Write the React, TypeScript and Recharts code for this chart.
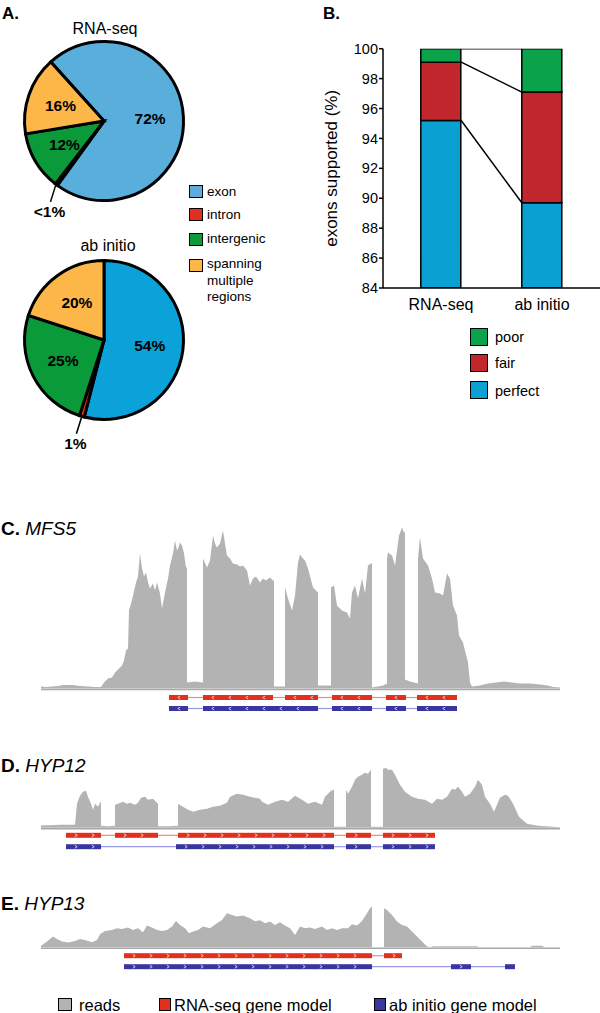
import React from "react";
import {
  PieChart,
  Pie,
  Cell,
  ComposedChart,
  Bar,
  Line,
  Area,
  XAxis,
  YAxis,
  ReferenceArea,
  ReferenceLine,
} from "recharts";

const FONT = '"Liberation Sans", Arial, Helvetica, sans-serif';

// ---- panel A: where the gene models fall
const REGIONS = ["exon", "intron", "intergenic", "spanning"];
const REGION_COLORS = ["#5aaedc", "#e1301f", "#0b9a3a", "#fdb749"];
const RNASEQ_SHARE = [72, 0.5, 12, 16];
const RNASEQ_LABELS = ["72%", "<1%", "12%", "16%"];
const ABINITIO_SHARE = [54, 1, 25, 20];
const ABINITIO_LABELS = ["54%", "1%", "25%", "20%"];
const ABINITIO_EXON_COLOR = "#0aa2d8";

// ---- panel B: exon support
const METHODS = ["RNA-seq", "ab initio"];
const PERFECT = [95.2, 89.7];
const FAIR = [3.9, 7.4];
const POOR = [0.9, 2.9];
const Y_TICKS = [84, 86, 88, 90, 92, 94, 96, 98, 100];
const SUPPORT = ["poor", "fair", "perfect"];
const SUPPORT_COLORS = { poor: "#0aa24a", fair: "#c1272d", perfect: "#0aa0d2" };

// ---- panels C-E: read coverage [position, depth] and gene models [start, end]
const MFS5_COVERAGE = [
  [41, 2], [46, 1.5], [52, 2], [58, 2.5], [63, 3.5], [68, 3.5], [73, 3.5], [80, 2.5], [88, 2], [95, 1.5],
  [101, 1.5], [104, 6], [108, 10], [112, 11], [115, 16], [119, 20], [122, 23], [124, 28], [126, 38], [128, 40],
  [129, 78], [131, 85], [133, 93], [136, 106], [138, 112], [140, 135], [142, 120], [144, 112], [146, 116],
  [148, 106], [150, 100], [153, 105], [155, 98], [157, 106], [160, 95], [162, 80], [165, 96], [168, 110],
  [170, 123], [173, 135], [175, 148], [177, 138], [178, 140], [180, 146], [182, 143], [184, 135], [186, 121],
  [187, 121], [187, 6], [195, 7], [203, 6], [203, 130], [207, 121], [210, 128], [213, 153], [215, 145],
  [217, 141], [220, 145], [223, 158], [225, 145], [227, 133], [230, 130], [233, 125], [237, 124], [240, 122],
  [243, 123], [247, 118], [250, 103], [253, 110], [256, 112], [260, 106], [263, 110], [266, 108], [270, 111],
  [273, 108], [274, 108], [274, 2], [280, 2], [285, 2], [285, 101], [288, 90], [292, 78], [295, 93], [298, 126],
  [300, 134], [303, 130], [305, 128], [308, 120], [313, 101], [318, 96], [318, 3], [325, 3], [331, 3],
  [331, 101], [334, 103], [337, 83], [340, 80], [342, 78], [347, 76], [350, 70], [352, 96], [355, 103],
  [358, 90], [362, 110], [365, 95], [368, 123], [371, 125], [372, 125], [372, 1], [378, 2], [383, 3], [387, 5],
  [387, 130], [388, 136], [392, 133], [395, 123], [399, 153], [402, 161], [404, 156], [405, 156], [405, 9],
  [410, 7], [418, 5], [418, 130], [420, 151], [423, 130], [428, 123], [432, 110], [435, 96], [440, 95],
  [443, 93], [447, 115], [450, 110], [453, 83], [457, 73], [459, 53], [463, 46], [468, 26], [470, 6], [472, 2],
  [480, 3], [488, 5], [496, 6], [504, 7], [512, 6], [520, 5], [530, 5], [540, 4], [548, 3], [553, 1.5], [560, 1],
];
const MFS5_RNASEQ = [[169, 188], [203, 273], [285, 318], [332, 372], [386, 406], [417, 457]];
const MFS5_ABINITIO = [[169, 188], [203, 318], [332, 372], [386, 406], [417, 457]];

const HYP12_COVERAGE = [
  [41, 2.5], [50, 2.5], [60, 3], [70, 3], [75, 3], [77, 24], [80, 32], [83, 36], [86, 37], [88, 31], [91, 24],
  [93, 18], [95, 24], [98, 21], [100, 25], [101, 26], [101, 2], [108, 1.5], [115, 2], [115, 23], [118, 24],
  [123, 26], [127, 24], [130, 25], [135, 23], [138, 25], [141, 30], [145, 31], [148, 28], [153, 29], [158, 24],
  [158, 1.5], [168, 1.5], [178, 2], [178, 24], [183, 21], [188, 18], [193, 16], [200, 18], [207, 19], [213, 21],
  [220, 22], [227, 25], [230, 31], [237, 34], [243, 33], [250, 31], [260, 29], [262, 26], [268, 23], [275, 26],
  [282, 28], [288, 26], [295, 32], [302, 28], [308, 24], [315, 26], [322, 23], [325, 31], [330, 36], [333, 38],
  [334, 38], [334, 1], [346, 1], [346, 38], [348, 34], [352, 41], [355, 48], [358, 51], [362, 53], [365, 55],
  [368, 54], [371, 58], [371, 1], [383, 1], [383, 59], [386, 60], [388, 58], [392, 58], [395, 53], [400, 43],
  [405, 36], [412, 31], [418, 29], [425, 28], [432, 24], [437, 29], [442, 28], [447, 31], [452, 39], [455, 38],
  [458, 41], [462, 36], [465, 31], [470, 34], [475, 41], [478, 48], [482, 43], [485, 31], [490, 24], [494, 16],
  [500, 30], [505, 33], [508, 32], [513, 24], [519, 11], [527, 4], [538, 2], [560, 0.5],
];
const HYP12_RNASEQ = [[66, 101], [115, 158], [178, 334], [346, 371], [383, 435]];
const HYP12_ABINITIO = [[66, 101], [176, 334], [346, 371], [383, 435]];

const HYP13_COVERAGE = [
  [41, 1.5], [42, 2.3], [47, 5.7], [53, 10.7], [57, 8.3], [62, 5.7], [68, 4.7], [75, 6.3], [80, 8.3], [85, 7.3],
  [92, 5], [97, 7.3], [100, 13], [105, 16.3], [112, 17.3], [117, 19], [122, 18.3], [128, 19.7], [133, 17.3],
  [138, 19], [143, 15], [147, 21.7], [152, 19.7], [157, 17.3], [162, 16.3], [167, 17.3], [172, 20.7], [176, 26.3],
  [180, 22.3], [185, 19], [189, 14], [193, 15.7], [198, 17.3], [203, 20.7], [210, 19], [217, 24], [222, 27.3],
  [227, 34], [232, 32.3], [237, 30.7], [243, 31.7], [250, 29], [255, 26], [260, 27], [265, 24], [270, 25.7],
  [275, 22.3], [280, 25], [285, 21.7], [290, 19], [295, 12.3], [300, 20.7], [305, 19], [310, 19.7], [315, 18.3],
  [322, 20.7], [327, 17.3], [332, 19], [337, 17.3], [342, 19], [348, 19], [352, 23], [357, 21.7], [362, 26.3],
  [367, 34], [370, 39], [372, 40.7], [372, 0], [384, 0], [384, 39], [387, 37.3], [392, 32.3], [397, 25.7],
  [402, 22.3], [407, 20.7], [412, 15.7], [417, 10.7], [422, 5.7], [427, 0.7], [431, 0], [433, 1], [477, 1],
  [479, 0], [530, 0], [532, 1.5], [542, 1.5], [545, 0], [560, 0],
];
const HYP13_RNASEQ = [[124, 372], [384, 402]];
const HYP13_ABINITIO = [[124, 372], [451, 471], [505, 515]];

const TRACK_KEYS = ["reads", "RNA-seq gene model", "ab initio gene model"];
const READS_COLOR = "#b3b3b3";
const RNASEQ_COLOR = "#e3301d";
const ABINITIO_COLOR = "#3a36a0";
const RNASEQ_INTRON = "#ef8a80";
const ABINITIO_INTRON = "#9a98e6";

const RADIAN = Math.PI / 180;

function Txt({ x, y, size, children, bold = false, italic = false, center = false }: any) {
  return (
    <div
      style={{
        position: "absolute",
        left: x,
        top: y,
        transform: `translate(${center ? "-50%" : "0"}, -50%)`,
        fontSize: size,
        fontWeight: bold ? 700 : 400,
        fontStyle: italic ? "italic" : "normal",
        lineHeight: 1,
        whiteSpace: "nowrap",
        color: "#000",
      }}
    >
      {children}
    </div>
  );
}

function Swatch({ x, y, w, h, color }: any) {
  return (
    <div
      style={{
        position: "absolute",
        left: x,
        top: y,
        width: w,
        height: h,
        background: color,
        border: "1.5px solid #000",
        boxSizing: "border-box",
      }}
    />
  );
}

function pieLabel(labels: string[]) {
  return (props: any) => {
    const { cx, cy, midAngle, outerRadius, index } = props;
    const cos = Math.cos(-midAngle * RADIAN);
    const sin = Math.sin(-midAngle * RADIAN);
    if (index === 1) {
      // tiny intron slice gets a leader line
      const sx = cx + (outerRadius + 1.5) * cos;
      const sy = cy + (outerRadius + 1.5) * sin;
      return (
        <g>
          <line x1={sx} y1={sy} x2={sx - 5} y2={sy + 16} stroke="#000" strokeWidth={1.5} />
          <text x={sx - 6} y={sy + 26} textAnchor="middle" dominantBaseline="central" fontSize={15.5} fontWeight={700} fill="#000">
            {labels[index]}
          </text>
        </g>
      );
    }
    const r = outerRadius * 0.58;
    return (
      <text
        x={cx + r * cos}
        y={cy + r * sin}
        textAnchor="middle"
        dominantBaseline="central"
        fontSize={15.5}
        fontWeight={700}
        fill="#000"
      >
        {labels[index]}
      </text>
    );
  };
}

function RegionPie({ top, shares, labels, exonColor, startAngle }: any) {
  const data = REGIONS.map((name, i) => ({ name, value: shares[i] }));
  return (
    <div style={{ position: "absolute", left: 4, top, width: 200, height: 230 }}>
      <PieChart width={200} height={230} margin={{ top: 0, right: 0, bottom: 0, left: 0 }}>
        <Pie
          data={data}
          dataKey="value"
          cx={100}
          cy={100}
          outerRadius={79.5}
          startAngle={startAngle}
          endAngle={startAngle - 360}
          stroke="#000"
          strokeWidth={3}
          label={pieLabel(labels)}
          labelLine={false}
          isAnimationActive={false}
        >
          {data.map((d, i) => (
            <Cell key={d.name} fill={i === 0 ? exonColor : REGION_COLORS[i]} />
          ))}
        </Pie>
      </PieChart>
    </div>
  );
}

function SupportChart() {
  const data = METHODS.map((method, i) => ({
    method,
    perfect: PERFECT[i],
    fair: FAIR[i],
    poor: POOR[i],
  }));
  // lines join the same boundary on neighbouring bars (bar covers 40% of its band)
  const BAR_FRAC = 0.4;
  const levels = [
    PERFECT,
    PERFECT.map((p, i) => p + FAIR[i]),
    PERFECT.map((p, i) => p + FAIR[i] + POOR[i]),
  ];
  const connectors = levels.map((lv) => [
    { x: 0.5 + BAR_FRAC / 2, y: lv[0] },
    { x: 1.5 - BAR_FRAC / 2, y: lv[1] },
  ]);
  const axisStyle = { stroke: "#000", strokeWidth: 1.5 };
  return (
    <div style={{ position: "absolute", left: 290, top: 30, width: 310, height: 290 }}>
      <ComposedChart
        width={310}
        height={290}
        data={data}
        margin={{ top: 18.7, right: 0, bottom: 2, left: 0 }}
        barCategoryGap="30%"
      >
        <XAxis
          xAxisId="cat"
          dataKey="method"
          padding={{ left: 7.5, right: 7.5 }}
          axisLine={axisStyle}
          tickLine={false}
          tickMargin={5}
          height={30}
          interval={0}
          tick={{ fill: "#000", fontSize: 16 }}
        />
        <XAxis xAxisId="n" type="number" dataKey="x" domain={[0, 2]} padding={{ left: 7.5, right: 7.5 }} hide allowDataOverflow />
        <YAxis
          type="number"
          domain={[84, 100]}
          ticks={Y_TICKS}
          allowDataOverflow
          width={93}
          axisLine={axisStyle}
          tickLine={axisStyle}
          tickSize={4}
          tickMargin={1}
          tick={{ fill: "#000", fontSize: 14.5 }}
          label={{
            value: "exons supported (%)",
            angle: -90,
            position: "center",
            dx: -6,
            style: { fontSize: 17, fill: "#000", textAnchor: "middle" },
          }}
        />
        <Bar xAxisId="cat" dataKey="perfect" stackId="s" fill={SUPPORT_COLORS.perfect} stroke="#000" strokeWidth={1.5} isAnimationActive={false} />
        <Bar xAxisId="cat" dataKey="fair" stackId="s" fill={SUPPORT_COLORS.fair} stroke="#000" strokeWidth={1.5} isAnimationActive={false} />
        <Bar xAxisId="cat" dataKey="poor" stackId="s" fill={SUPPORT_COLORS.poor} stroke="#000" strokeWidth={1.5} isAnimationActive={false} />
        {connectors.map((c, i) => (
          <Line
            key={i}
            xAxisId="n"
            data={c}
            dataKey="y"
            stroke="#000"
            strokeWidth={1.5}
            dot={false}
            activeDot={false}
            isAnimationActive={false}
          />
        ))}
      </ComposedChart>
    </div>
  );
}

// exon box with small white strand chevrons, like a genome browser draws them
function exonShape(dir: number) {
  return (p: any) => {
    const { x, y, width, height, fill } = p;
    const marks: number[] = [];
    for (let m = x + 10; m < x + width - 5; m += 17) marks.push(m);
    return (
      <g>
        <rect x={x} y={y} width={width} height={height} fill={fill} />
        {marks.map((m) => (
          <polyline
            key={m}
            points={`${m - dir * 1.2},${y + 1} ${m + dir * 1.2},${y + height / 2} ${m - dir * 1.2},${y + height - 1}`}
            fill="none"
            stroke="#fff"
            strokeWidth={0.7}
          />
        ))}
      </g>
    );
  };
}

function geneModel(exons: number[][], y: number, color: string, intronColor: string, dir: number, key: string) {
  const out: any[] = [];
  for (let i = 0; i < exons.length - 1; i++) {
    out.push(
      <ReferenceLine
        key={`${key}-i${i}`}
        segment={[{ x: exons[i][1], y }, { x: exons[i + 1][0], y }]}
        stroke={intronColor}
        strokeWidth={1.2}
      />
    );
  }
  exons.forEach(([s, e], i) => {
    out.push(
      <ReferenceArea
        key={`${key}-e${i}`}
        x1={s}
        x2={e}
        y1={y - 2.5}
        y2={y + 2.5}
        fill={color}
        fillOpacity={1}
        stroke="none"
        shape={exonShape(dir)}
      />
    );
  });
  return out;
}

function CoverageTrack({ top, height, base, coverage, rnaseq, abinitio, redY, blueY, dir }: any) {
  const data = coverage.map(([pos, depth]: number[]) => ({ pos, depth }));
  const yMax = base - top;
  return (
    <div style={{ position: "absolute", left: 41, top, width: 519, height }}>
      <ComposedChart width={519} height={height} data={data} margin={{ top: 0, right: 0, bottom: 0, left: 0 }}>
        <XAxis type="number" dataKey="pos" domain={[41, 560]} hide allowDataOverflow />
        <YAxis type="number" domain={[yMax - height, yMax]} hide allowDataOverflow />
        <Area
          type="linear"
          dataKey="depth"
          fill={READS_COLOR}
          fillOpacity={1}
          stroke="none"
          baseValue={0}
          isAnimationActive={false}
        />
        <ReferenceLine y={-1} stroke="#a8a8a8" strokeWidth={1.5} />
        {geneModel(rnaseq, redY, RNASEQ_COLOR, RNASEQ_INTRON, dir, "r")}
        {geneModel(abinitio, blueY, ABINITIO_COLOR, ABINITIO_INTRON, dir, "b")}
      </ComposedChart>
    </div>
  );
}

export default function App() {
  return (
    <div
      style={{
        position: "absolute",
        left: 0,
        top: 0,
        width: 600,
        height: 1013,
        background: "#fff",
        fontFamily: FONT,
        overflow: "hidden",
      }}
    >
      {/* A */}
      <Txt x={2} y={13} size={17} bold>A.</Txt>
      <Txt x={105} y={29} size={16} center>RNA-seq</Txt>
      <RegionPie top={21} shares={RNASEQ_SHARE} labels={RNASEQ_LABELS} exonColor={REGION_COLORS[0]} startAngle={132} />
      <Txt x={108} y={246} size={16} center>ab initio</Txt>
      <RegionPie top={240} shares={ABINITIO_SHARE} labels={ABINITIO_LABELS} exonColor={ABINITIO_EXON_COLOR} startAngle={90} />
      {REGIONS.map((r, i) => (
        <Swatch key={r} x={189} y={[185, 208, 233, 259][i]} w={14} h={13} color={REGION_COLORS[i]} />
      ))}
      <Txt x={207} y={191.5} size={13.5}>{REGIONS[0]}</Txt>
      <Txt x={207} y={214.5} size={13.5}>{REGIONS[1]}</Txt>
      <Txt x={207} y={239} size={13.5}>{REGIONS[2]}</Txt>
      <Txt x={207} y={264} size={13.5}>{REGIONS[3]}</Txt>
      <Txt x={207} y={281} size={13.5}>multiple</Txt>
      <Txt x={207} y={297} size={13.5}>regions</Txt>

      {/* B */}
      <Txt x={323} y={13} size={17} bold>B.</Txt>
      <SupportChart />
      {SUPPORT.map((s, i) => (
        <React.Fragment key={s}>
          <Swatch x={470} y={[328, 354, 381][i]} w={18} h={18} color={(SUPPORT_COLORS as any)[s]} />
          <Txt x={495} y={[337, 363, 391][i]} size={14.5}>{s}</Txt>
        </React.Fragment>
      ))}

      {/* C */}
      <Txt x={1} y={528} size={19}><b>C.</b> <i>MFS5</i></Txt>
      <CoverageTrack top={520} height={195} base={688.5} coverage={MFS5_COVERAGE} rnaseq={MFS5_RNASEQ} abinitio={MFS5_ABINITIO} redY={-9} blueY={-20} dir={-1} />

      {/* D */}
      <Txt x={1} y={765} size={19}><b>D.</b> <i>HYP12</i></Txt>
      <CoverageTrack top={755} height={100} base={827.7} coverage={HYP12_COVERAGE} rnaseq={HYP12_RNASEQ} abinitio={HYP12_ABINITIO} redY={-7.6} blueY={-19} dir={1} />

      {/* E */}
      <Txt x={1} y={903} size={19}><b>E.</b> <i>HYP13</i></Txt>
      <CoverageTrack top={895} height={80} base={947.3} coverage={HYP13_COVERAGE} rnaseq={HYP13_RNASEQ} abinitio={HYP13_ABINITIO} redY={-8.4} blueY={-19.4} dir={1} />

      {/* track legend */}
      <Swatch x={58} y={998} w={14} h={13} color={READS_COLOR} />
      <Txt x={79} y={1004.5} size={16.5}>{TRACK_KEYS[0]}</Txt>
      <Swatch x={159} y={998} w={12} h={13} color={RNASEQ_COLOR} />
      <Txt x={174} y={1004.5} size={16.5}>{TRACK_KEYS[1]}</Txt>
      <Swatch x={374} y={998} w={12} h={13} color={ABINITIO_COLOR} />
      <Txt x={389} y={1004.5} size={16.5}>{TRACK_KEYS[2]}</Txt>
    </div>
  );
}
